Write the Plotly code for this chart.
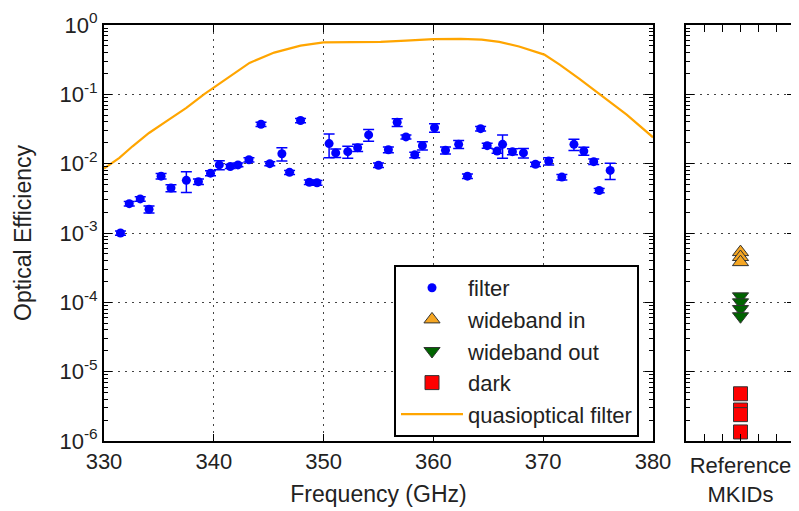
import plotly.graph_objects as go

# ---------------- data ----------------
filter_freq = [331.5, 332.3, 333.3, 334.1, 335.2, 336.1, 337.5, 338.6, 339.7, 340.5,
               341.5, 342.2, 343.2, 344.3, 345.1, 346.2, 346.9, 347.9, 348.7, 349.4,
               350.5, 351.1, 352.2, 353.1, 354.1, 355.0, 355.9, 356.7, 357.5, 358.3,
               359.0, 360.1, 361.1, 362.3, 363.1, 364.3, 364.9, 365.8, 366.3, 367.2,
               368.2, 369.3, 370.5, 371.7, 372.8, 373.7, 374.6, 375.1, 376.1]
filter_eff = [1.0e-3, 2.65e-3, 3.1e-3, 2.2e-3, 6.6e-3, 4.45e-3, 5.75e-3, 5.5e-3, 7.3e-3, 9.6e-3,
              9.1e-3, 9.6e-3, 1.14e-2, 3.7e-2, 1.0e-2, 1.39e-2, 7.5e-3, 4.2e-2, 5.4e-3, 5.3e-3,
              1.95e-2, 1.43e-2, 1.49e-2, 1.7e-2, 2.6e-2, 9.5e-3, 1.59e-2, 3.95e-2, 2.43e-2, 1.34e-2,
              1.82e-2, 3.3e-2, 1.56e-2, 1.9e-2, 6.6e-3, 3.2e-2, 1.82e-2, 1.52e-2, 1.9e-2, 1.49e-2,
              1.43e-2, 9.8e-3, 1.09e-2, 6.4e-3, 1.9e-2, 1.52e-2, 1.07e-2, 4.1e-3, 8.0e-3]
filter_err = [0.07e-3, 0.19e-3, 0.22e-3, 0.25e-3, 0.6e-3, 0.5e-3, 1.9e-3, 0.5e-3, 0.6e-3, 1.4e-3,
              0.6e-3, 0.6e-3, 0.8e-3, 2.5e-3, 0.7e-3, 3.0e-3, 0.5e-3, 3.0e-3, 0.4e-3, 0.4e-3,
              7.3e-3, 2.0e-3, 2.9e-3, 2.0e-3, 5.0e-3, 0.7e-3, 1.5e-3, 5.0e-3, 1.7e-3, 1.2e-3,
              2.5e-3, 4.5e-3, 1.8e-3, 2.5e-3, 0.5e-3, 2.3e-3, 1.5e-3, 1.1e-3, 7.0e-3, 1.5e-3,
              2.2e-3, 0.7e-3, 1.3e-3, 0.6e-3, 3.5e-3, 2.0e-3, 1.0e-3, 0.3e-3, 2.1e-3]

qo_freq = [330.0, 331.4, 332.6, 334.1, 335.7, 337.5, 339.1, 340.0, 341.5, 343.25,
           345.5, 347.9, 350.0, 352.5, 355.2, 357.5, 360.0, 362.5, 364.4, 366.0,
           367.8, 370.1, 371.5, 373.3, 375.1, 377.6, 380.0]
qo_eff = [0.0085, 0.0121, 0.0178, 0.0277, 0.041, 0.0636, 0.100, 0.125, 0.185, 0.284,
          0.40, 0.505, 0.56, 0.565, 0.57, 0.595, 0.625, 0.63, 0.615, 0.57,
          0.49, 0.374, 0.268, 0.167, 0.101, 0.051, 0.024]

ref_position = 3  # all reference MKIDs plotted in one column
wideband_in = [5.3e-4, 4.5e-4, 3.8e-4]
wideband_out = [1.22e-4, 1.0e-4, 8.0e-5, 6.3e-5]
dark = [4.8e-6, 2.8e-6, 2.4e-6, 1.35e-6]

x_ticks = [330, 340, 350, 360, 370, 380]
y_tickvals = [1, 1e-1, 1e-2, 1e-3, 1e-4, 1e-5, 1e-6]
y_ticktext = ["10<sup>0</sup>", "10<sup>-1</sup>", "10<sup>-2</sup>", "10<sup>-3</sup>",
              "10<sup>-4</sup>", "10<sup>-5</sup>", "10<sup>-6</sup>"]
ref_ticks = [1, 2, 3, 4, 5]

# ---------------- figure ----------------
FONT = "Liberation Sans, Arial, sans-serif"
TXT = "#222222"
FS = 22
fig = go.Figure()

fig.add_trace(go.Scatter(
    x=qo_freq, y=qo_eff, mode="lines", name="quasioptical filter",
    line=dict(color="#FFA500", width=2.2), xaxis="x", yaxis="y",
    legendgroup="e", legendrank=5))

fig.add_trace(go.Scatter(
    x=filter_freq, y=filter_eff, mode="markers", name="filter",
    marker=dict(color="#0000FF", size=9, symbol="circle"),
    error_y=dict(type="data", array=filter_err, color="#0000FF", thickness=1.5, width=5.5),
    xaxis="x", yaxis="y", legendgroup="a", legendrank=1))

fig.add_trace(go.Scatter(
    x=[ref_position] * len(wideband_in), y=wideband_in, mode="markers", name="wideband in",
    marker=dict(color="#F5A623", size=14, symbol="triangle-up",
                line=dict(color="#333333", width=1)),
    xaxis="x2", yaxis="y2", legendgroup="b", legendrank=2))

fig.add_trace(go.Scatter(
    x=[ref_position] * len(wideband_out), y=wideband_out, mode="markers", name="wideband out",
    marker=dict(color="#006400", size=14, symbol="triangle-down",
                line=dict(color="#333333", width=1)),
    xaxis="x2", yaxis="y2", legendgroup="c", legendrank=3))

fig.add_trace(go.Scatter(
    x=[ref_position] * len(dark), y=dark, mode="markers", name="dark",
    marker=dict(color="#FF0000", size=14, symbol="square",
                line=dict(color="#333333", width=1)),
    xaxis="x2", yaxis="y2", legendgroup="d", legendrank=4))

# the page body adds an 8px offset, so the figure is 8px smaller and shifted
OFF = 8
W, H = 799 - OFF, 511 - OFF
ml, mt = 104 - OFF, 25 - OFF
mr = W - (795 - OFF)
mb = H - (441 - OFF)
pw, ph = W - ml - mr, H - mt - mb
main_right = (653 - 104) / pw
ref_left = (686 - 104) / pw

axis_common = dict(showline=True, linecolor="black", linewidth=2, mirror="allticks",
                   ticks="inside", tickcolor="black", zeroline=False, automargin=False)

minor_vals = [m * 10.0 ** e for e in range(-6, 0) for m in range(2, 10)]
ylog = dict(type="log", range=[-6, 0], tickvals=y_tickvals, ticktext=y_ticktext,
            ticklen=8, tickwidth=1.2,
            minor=dict(ticks="inside", ticklen=4, tickcolor="black", tickwidth=1,
                       tickvals=minor_vals, showgrid=False),
            showgrid=True, gridcolor="#444444", griddash="2px,5px", gridwidth=1)

fig.update_layout(
    width=W, height=H,
    margin=dict(l=ml, r=mr, t=mt, b=mb),
    paper_bgcolor="white", plot_bgcolor="white",
    font=dict(family=FONT, size=FS, color=TXT),
    showlegend=True,
    legend=dict(x=(394 - 104) / pw, y=1 - (265 - 25) / ph, xanchor="left", yanchor="top",
                bordercolor="black", borderwidth=2, bgcolor="white",
                font=dict(family=FONT, size=FS, color=TXT),
                tracegroupgap=2, itemwidth=62, traceorder="normal"),
    xaxis=dict(domain=[0, main_right], range=[330, 380], tickvals=x_ticks,
               ticklen=7, tickwidth=1.2, showgrid=True, gridcolor="#444444",
               griddash="2px,5px", gridwidth=1,
               title=dict(text="Frequency (GHz)", standoff=12, font=dict(size=23)),
               tickfont=dict(size=FS), **axis_common),
    yaxis=dict(domain=[0, 1], anchor="x",
               title=dict(text="Optical Efficiency", standoff=21, font=dict(size=23)),
               tickfont=dict(size=FS), **ylog, **axis_common),
    xaxis2=dict(domain=[ref_left, 1], range=[0, 6], tickvals=ref_ticks, showticklabels=False,
                ticklen=7, tickwidth=1.2, showgrid=False, anchor="y2",
                title=dict(text="Reference<br>MKIDs", standoff=16, font=dict(size=FS)),
                **axis_common),
    yaxis2=dict(domain=[0, 1], anchor="x2", showticklabels=False, **ylog, **axis_common),
)

fig.write_html("out.html")
